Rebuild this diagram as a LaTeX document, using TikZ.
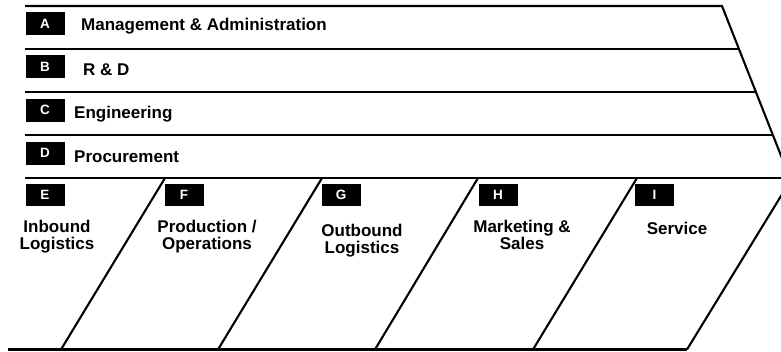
\documentclass[tikz,border=0pt]{standalone}
\usepackage{fontspec}
\setmainfont{Liberation Sans}
\begin{document}
\begin{tikzpicture}[x=1pt,y=-1pt,
  rule/.style={line width=2.1pt, line cap=butt},
  tag/.style={fill=black, text=white, font=\fontsize{13.5}{13.5}\selectfont\bfseries,
    minimum width=39pt, minimum height=23pt, inner sep=0pt},
  btag/.style={tag, minimum height=22pt},
  rowlab/.style={anchor=base west, inner sep=0pt, font=\fontsize{17}{17}\selectfont\bfseries},
  collab/.style={anchor=north, inner sep=0pt, align=center, font=\fontsize{17}{17}\selectfont\bfseries}]
\useasboundingbox (0,0) rectangle (781,351);
\clip (0,0) rectangle (781,351);
% support activity bands
\coordinate (t0) at (25,6);   \coordinate (r0) at (722,6);
\coordinate (t1) at (25,49);  \coordinate (r1) at (739,49);
\coordinate (t2) at (25,92);  \coordinate (r2) at (756,92);
\coordinate (t3) at (25,135); \coordinate (r3) at (773,135);
\coordinate (t4) at (25,178); \coordinate (r4) at (800,178);
\coordinate (rend) at (791,181);
\draw[rule] (t0) -- (r0) -- (rend);
\draw[rule] (t1) -- (r1);
\draw[rule] (t2) -- (r2);
\draw[rule] (t3) -- (r3);
\draw[rule] (t4) -- (r4);
% primary activity parallelograms
\coordinate (b0) at (8,349.5);
\coordinate (b5) at (687,349.5);
\draw[rule] (b0) -- (b5);
\coordinate (p1t) at (165,178); \coordinate (p1b) at (61,349.5);
\coordinate (p2t) at (322,178); \coordinate (p2b) at (218,349.5);
\coordinate (p3t) at (478,178); \coordinate (p3b) at (375,349.5);
\coordinate (p4t) at (637,178); \coordinate (p4b) at (533,349.5);
\coordinate (p5t) at (792,178); \coordinate (p5b) at (687,349.5);
\draw[rule] (p1t) -- (p1b);
\draw[rule] (p2t) -- (p2b);
\draw[rule] (p3t) -- (p3b);
\draw[rule] (p4t) -- (p4b);
\draw[rule] (p5t) -- (p5b);
% support labels
\node[tag] (A) at (45,23.5) {A};
\node[tag] (B) at (45,66.5) {B};
\node[tag] (C) at (45,110) {C};
\node[tag] (D) at (45,153) {D};
\node[rowlab] (Alab) at (81,30) {Management \& Administration};
\node[rowlab] (Blab) at (83,75) {R \& D};
\node[rowlab] (Clab) at (74,118) {Engineering};
\node[rowlab] (Dlab) at (74,162.5) {Procurement};
% primary labels
\node[btag] (E) at (45,195) {E};
\node[btag] (F) at (184,195) {F};
\node[btag] (G) at (341,195) {G};
\node[btag] (H) at (498,195) {H};
\node[btag] (I) at (654.5,195) {I};
\node[collab] (Elab) at (57,220) {Inbound\\Logistics};
\node[collab] (Flab) at (207,220) {Production /\\Operations};
\node[collab] (Glab) at (362,224) {Outbound\\Logistics};
\node[collab] (Hlab) at (522,220) {Marketing \&\\Sales};
\node[collab] (Ilab) at (677,222) {Service};
\end{tikzpicture}
\end{document}
